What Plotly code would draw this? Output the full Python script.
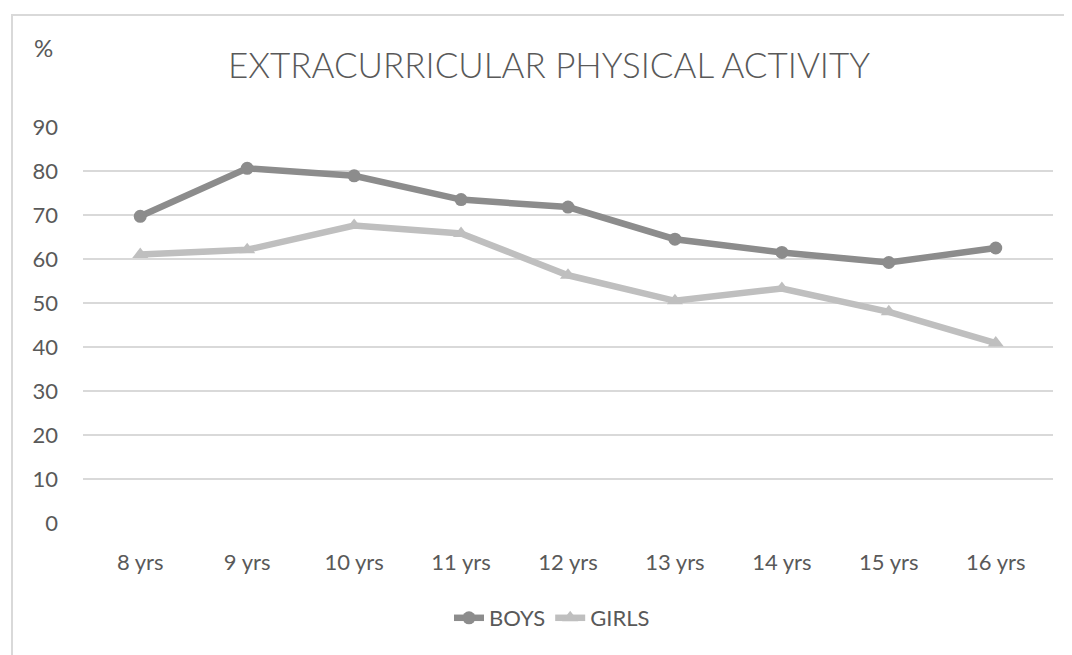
import plotly.graph_objects as go

categories = ["8 yrs", "9 yrs", "10 yrs", "11 yrs", "12 yrs", "13 yrs", "14 yrs", "15 yrs", "16 yrs"]
boys = [69.7, 80.6, 78.9, 73.5, 71.8, 64.5, 61.5, 59.2, 62.5]
girls = [61.0, 62.1, 67.6, 65.8, 56.3, 50.5, 53.3, 48.0, 40.9]
y_ticks = [0, 10, 20, 30, 40, 50, 60, 70, 80, 90]

TXT = "#595959"
FONT = "Lato"
OFF = 8  # page body margin

fig = go.Figure()
fig.add_trace(go.Scatter(
    x=categories, y=boys, name="BOYS", mode="lines+markers",
    line=dict(color="#8c8c8c", width=6.5),
    marker=dict(symbol="circle", size=13, color="#8c8c8c"),
))
fig.add_trace(go.Scatter(
    x=categories, y=girls, name="GIRLS", mode="lines+markers",
    line=dict(color="#bfbfbf", width=6.5),
    marker=dict(symbol="triangle-up", size=14, color="#bfbfbf"),
))

W, H = 1072 - OFF, 655 - OFF
L, T = 83 - OFF, 127 - OFF
R = 19
B = H - (523 - OFF)
pw, ph = W - L - R, H - T - B

def px_x(px):
    return (px - OFF - L) / pw

def px_y(py):
    return (H - B - (py - OFF)) / ph

fig.update_layout(
    width=W, height=H,
    margin=dict(l=L, r=R, t=T, b=B),
    paper_bgcolor="white", plot_bgcolor="white",
    font=dict(family=FONT, color=TXT, size=22),
    title=dict(text="EXTRACURRICULAR PHYSICAL ACTIVITY", x=(549 - OFF) / W, xref="container",
               xanchor="center", y=1 - (66 - OFF) / H, yref="container", yanchor="middle",
               font=dict(family=FONT, size=35, color=TXT, weight=300)),
    showlegend=True,
    legend=dict(orientation="h", x=px_x(552), xanchor="center", y=px_y(618), yanchor="middle",
                font=dict(family=FONT, size=22, color=TXT), itemwidth=30, tracegroupgap=0),
    xaxis=dict(showgrid=False, showline=False, zeroline=False, ticks="",
               tickfont=dict(size=22, color=TXT), ticklabelstandoff=24),
    yaxis=dict(range=[0, 90], tickvals=y_ticks, showgrid=True, gridcolor="#d9d9d9", gridwidth=1.5,
               zeroline=False, showline=False, ticks="",
               tickfont=dict(size=22, color=TXT), ticklabelstandoff=24),
    shapes=[dict(type="rect", xref="paper", yref="paper",
                 x0=px_x(12), x1=px_x(1200), y0=px_y(800), y1=px_y(15),
                 line=dict(color="#d9d9d9", width=2), fillcolor="rgba(0,0,0,0)", layer="below")],
    annotations=[dict(text="%", xref="paper", yref="paper", x=px_x(43), y=px_y(47),
                      xanchor="center", yanchor="middle", showarrow=False,
                      font=dict(family=FONT, size=24, color=TXT))],
)

fig.write_html("out.html")
